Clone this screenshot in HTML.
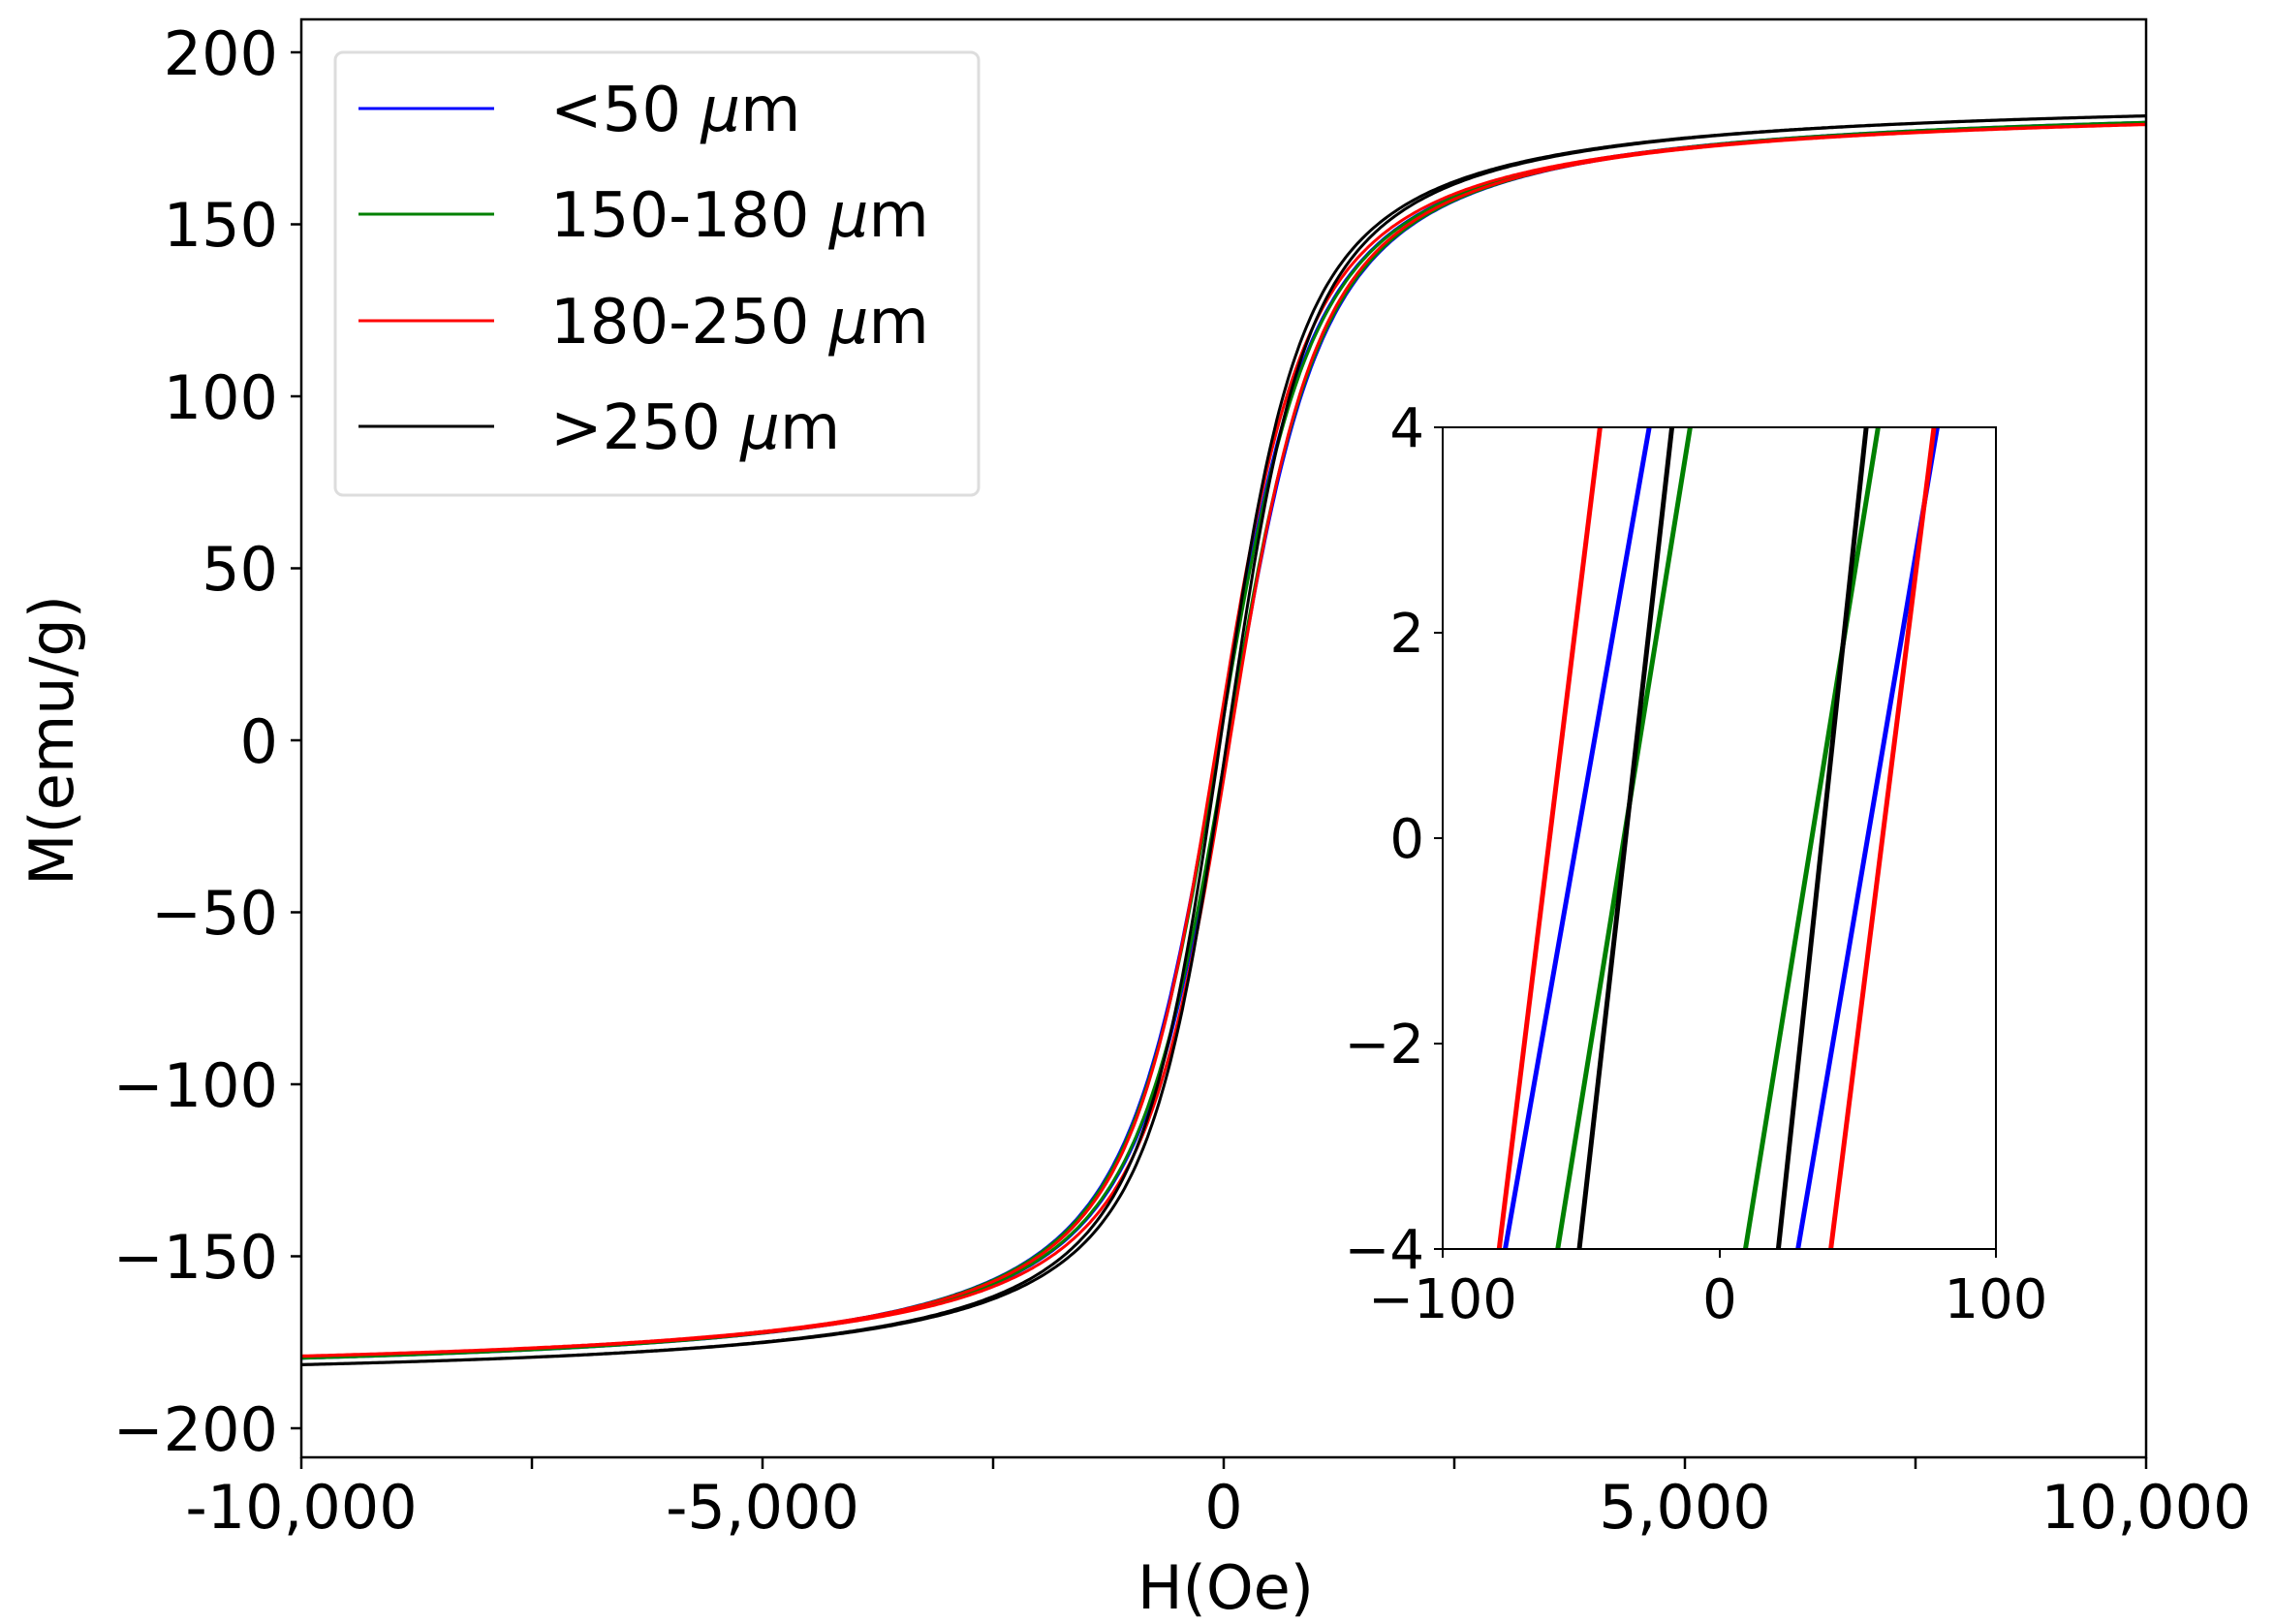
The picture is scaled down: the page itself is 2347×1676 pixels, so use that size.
<!DOCTYPE html>
<html><head><meta charset="utf-8">
<style>
html,body{margin:0;padding:0;background:#fff;}
svg{display:block;}
text{font-family:"DejaVu Sans","Liberation Sans",sans-serif;fill:#000;}
</style></head>
<body>
<svg id="s" width="2347" height="1676" viewBox="0 0 2347 1676" xmlns="http://www.w3.org/2000/svg">
<defs>
<clipPath id="cm"><rect x="311" y="20" width="1904" height="1484"/></clipPath>
<clipPath id="ci"><rect x="1489" y="441" width="571" height="848"/></clipPath>
</defs>
<rect x="0" y="0" width="2347" height="1676" fill="#fff"/>
<g id="main" clip-path="url(#cm)" fill="none" stroke-width="3"></g>
<rect x="311" y="20" width="1904" height="1484" fill="none" stroke="#000" stroke-width="2.5"/>
<g id="ticks" stroke="#000" stroke-width="2.5"></g>
<g font-size="62" text-anchor="end">
<text x="287" y="77">200</text>
<text x="287" y="254">150</text>
<text x="287" y="432">100</text>
<text x="287" y="609">50</text>
<text x="287" y="787">0</text>
<text x="287" y="964">−50</text>
<text x="287" y="1142">−100</text>
<text x="287" y="1319">−150</text>
<text x="287" y="1497">−200</text>
</g>
<g font-size="62" text-anchor="middle">
<text x="311" y="1577">-10,000</text>
<text x="787" y="1577">-5,000</text>
<text x="1263" y="1577">0</text>
<text x="1739" y="1577">5,000</text>
<text x="2215" y="1577">10,000</text>
<text x="1265" y="1660">H(Oe)</text>
</g>
<text font-size="62" text-anchor="middle" transform="translate(75,764) rotate(-90)">M(emu/g)</text>
<rect x="346" y="54" width="664" height="457" rx="8" fill="#fff" stroke="#ddd" stroke-width="3"/>
<line x1="370" y1="112" x2="510" y2="112" stroke="#0000ff" stroke-width="3"/>
<line x1="370" y1="221" x2="510" y2="221" stroke="#008000" stroke-width="3"/>
<line x1="370" y1="331" x2="510" y2="331" stroke="#ff0000" stroke-width="3"/>
<line x1="370" y1="440" x2="510" y2="440" stroke="#000" stroke-width="3"/>
<g font-size="64">
<text x="568" y="135">&lt;50 <tspan font-style="italic">μ</tspan>m</text>
<text x="568" y="244">150-180 <tspan font-style="italic">μ</tspan>m</text>
<text x="568" y="354">180-250 <tspan font-style="italic">μ</tspan>m</text>
<text x="568" y="463">&gt;250 <tspan font-style="italic">μ</tspan>m</text>
</g>
<rect x="1489" y="441" width="571" height="848" fill="#fff"/>
<g id="inset" clip-path="url(#ci)" stroke-width="5" fill="none"></g>
<rect x="1489" y="441" width="571" height="848" fill="none" stroke="#000" stroke-width="2"/>
<g stroke="#000" stroke-width="2">
<line x1="1480" y1="441" x2="1489" y2="441"/><line x1="1480" y1="653" x2="1489" y2="653"/>
<line x1="1480" y1="865" x2="1489" y2="865"/><line x1="1480" y1="1077" x2="1489" y2="1077"/>
<line x1="1480" y1="1289" x2="1489" y2="1289"/>
<line x1="1489" y1="1289" x2="1489" y2="1298"/><line x1="1775" y1="1289" x2="1775" y2="1298"/>
<line x1="2060" y1="1289" x2="2060" y2="1298"/>
</g>
<g font-size="56" text-anchor="end">
<text x="1470" y="461">4</text>
<text x="1470" y="673">2</text>
<text x="1470" y="885">0</text>
<text x="1470" y="1097">−2</text>
<text x="1470" y="1309">−4</text>
</g>
<g font-size="56" text-anchor="middle">
<text x="1489" y="1360">−100</text>
<text x="1775" y="1360">0</text>
<text x="2060" y="1360">100</text>
</g>
</svg>
<script>
(function(){
var NS="http://www.w3.org/2000/svg";
function X(h){return 1263+h*0.0952;}
function Y(m){return 764-m*3.55;}
function L(x){if(Math.abs(x)<1e-4)return x/3;return 1/Math.tanh(x)-1/x;}
var series=[
 {c:"#0000ff",Ms:187,a:395,hc:28},
 {c:"#008000",Ms:187,a:395,hc:22},
 {c:"#ff0000",Ms:186,a:375,hc:34},
 {c:"#000000",Ms:188,a:345,hc:18}
];
var main=document.getElementById("main");
series.forEach(function(s){
  [1,-1].forEach(function(sg){
    var d="";
    for(var h=-10500;h<=10500;h+=25){
      var m=s.Ms*L((h+sg*s.hc*2)/s.a);
      d+=(d?"L":"M")+X(h).toFixed(1)+","+Y(m).toFixed(1);
    }
    var p=document.createElementNS(NS,"path");
    p.setAttribute("d",d);p.setAttribute("stroke",s.c);
    main.appendChild(p);
  });
});
var ticks=document.getElementById("ticks");
for(var v=-200;v<=200;v+=50){var l=document.createElementNS(NS,"line");var y=Y(v);
 l.setAttribute("x1",300);l.setAttribute("x2",311);l.setAttribute("y1",y);l.setAttribute("y2",y);ticks.appendChild(l);}
for(var h=-10000;h<=10000;h+=2500){var l2=document.createElementNS(NS,"line");var x=X(h);
 l2.setAttribute("x1",x);l2.setAttribute("x2",x);l2.setAttribute("y1",1504);l2.setAttribute("y2",1516);ticks.appendChild(l2);}
function IX(h){return 1775.5+h*2.853;}
function IY(m){return 865-m*106;}
var lines=[
 ["#ff0000",-80,-43.5],["#0000ff",-77.8,-25.7],["#008000",-58.8,-10.9],["#000000",-51,-17.5],
 ["#008000",9.1,57.1],["#000000",21,52.8],["#0000ff",28.1,78.5],["#ff0000",40,77.3]
];
var ins=document.getElementById("inset");
lines.forEach(function(l){
 var p=document.createElementNS(NS,"line");
 p.setAttribute("x1",IX(l[1]));p.setAttribute("y1",IY(-4));
 p.setAttribute("x2",IX(l[2]));p.setAttribute("y2",IY(4));
 p.setAttribute("stroke",l[0]);ins.appendChild(p);
});
})();
</script>
</body></html>
